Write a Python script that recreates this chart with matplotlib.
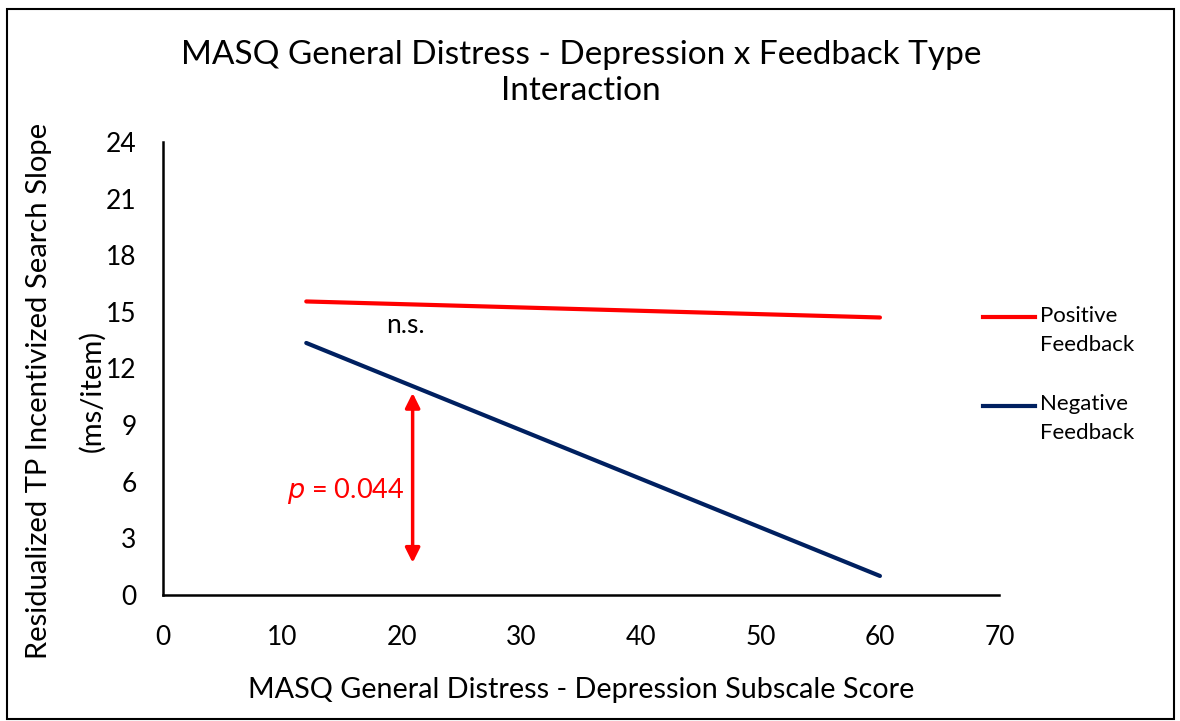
import matplotlib.pyplot as plt
from matplotlib.lines import Line2D
from matplotlib.patches import Rectangle

plt.rcParams['font.family'] = ['Lato', 'DejaVu Sans']

# data
x_ends = [12, 60]
positive = [15.55, 14.7]
negative = [13.35, 1.0]
series_names = ['Positive\nFeedback', 'Negative\nFeedback']
series_colors = ['#FF0000', '#002060']
x_ticks = [0, 10, 20, 30, 40, 50, 60, 70]
y_ticks = [0, 3, 6, 9, 12, 15, 18, 21, 24]
arrow_x = 20.9
arrow_span = [1.7, 10.7]

fig = plt.figure(figsize=(11.8, 7.21), dpi=100)
ax = fig.add_axes([0.138, 0.175, 0.709, 0.628])

ax.plot(x_ends, positive, color=series_colors[0], lw=3, solid_capstyle='round')
ax.plot(x_ends, negative, color=series_colors[1], lw=3, solid_capstyle='round')

ax.set_xlim(0, 70)
ax.set_ylim(0, 24)
ax.set_xticks(x_ticks)
ax.set_yticks(y_ticks)
ax.tick_params(length=0, labelsize=19)
ax.tick_params(axis='x', pad=22)
ax.tick_params(axis='y', pad=19)
for s in ['top', 'right']:
    ax.spines[s].set_visible(False)
for s in ['left', 'bottom']:
    ax.spines[s].set_linewidth(1.8)

ax.set_xlabel('MASQ General Distress - Depression Subscale Score', fontsize=20.7, labelpad=19)
ax.set_ylabel('Residualized TP Incentivized Search Slope\n(ms/item)', fontsize=21,
              linespacing=2.25)
ax.yaxis.set_label_coords(-0.068, 0.45)
ax.set_title('MASQ General Distress - Depression x Feedback Type\nInteraction', fontsize=24,
             pad=30, linespacing=1.25)

# significance annotations
ax.annotate('', xy=(arrow_x, arrow_span[1]), xytext=(arrow_x, arrow_span[0]),
            arrowprops=dict(arrowstyle='<|-|>', color='#FF0000', lw=2.5,
                            mutation_scale=22, shrinkA=0, shrinkB=0))
ax.text(arrow_x - 0.7, 5.5, r'$\it{p}$ = 0.044', color='#FF0000', fontsize=19.5,
        ha='right', va='center')
ax.text(20.3, 14.3, 'n.s.', fontsize=19, ha='center', va='center')

# legend drawn at the right side
leg_y = [0.56, 0.437]
for name, col, yy in zip(series_names, series_colors, leg_y):
    fig.add_artist(Line2D([0.833, 0.877], [yy, yy], color=col, lw=3))
    fig.text(0.881, yy + 0.016, name, fontsize=16, va='top', ha='left', linespacing=1.55)

fig.add_artist(Rectangle((0.006, 0.003), 0.989, 0.985, transform=fig.transFigure,
                         fill=False, edgecolor='black', lw=1.5))

fig.savefig('out.png', dpi=100)
